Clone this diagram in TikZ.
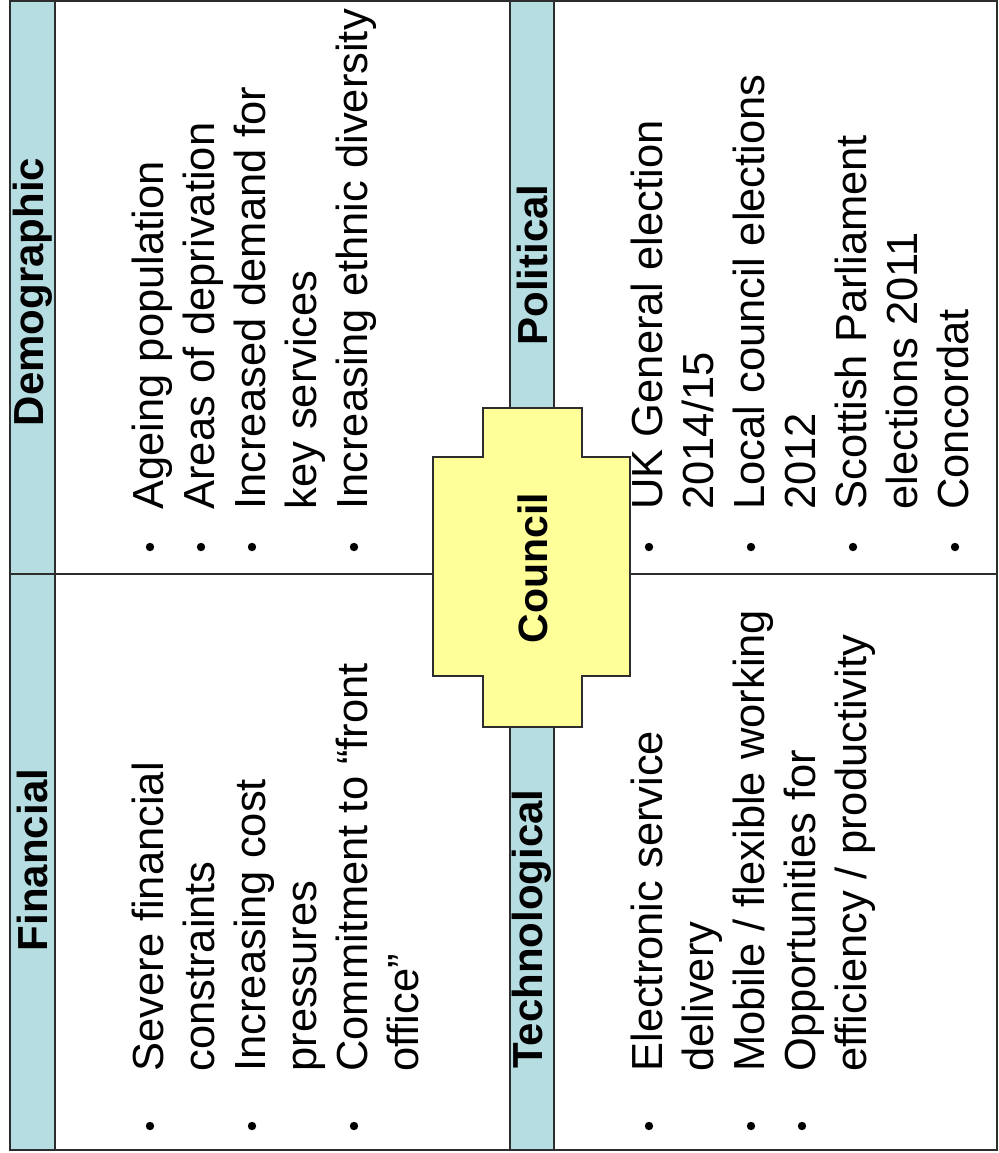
\documentclass[tikz,border=0pt]{standalone}
\usepackage{fontspec}
\setmainfont{Liberation Sans}
\definecolor{stripblue}{RGB}{182,222,226}
\definecolor{councilyellow}{RGB}{255,255,153}
\definecolor{edgegray}{RGB}{45,45,45}
\begin{document}
\begin{tikzpicture}[x=0.5pt,y=-0.5pt,
  itemtext/.style={rotate=90, anchor=base west, inner sep=0pt, font=\fontsize{21.75}{26}\selectfont},
  headtext/.style={rotate=90, anchor=center, inner sep=0pt, font=\bfseries\fontsize{21}{25}\selectfont},
  bulletdot/.style={circle, fill=black, draw=none, inner sep=0pt, minimum size=4.2pt},
  frame/.style={draw=edgegray, line width=0.9pt}]
\useasboundingbox (0,0) rectangle (999,1153);
% outer frame
\draw[frame] (10,1) rectangle (997,1150);
% header strips
\draw[frame, fill=stripblue] (10,1) rectangle (55,1150);
\draw[frame, fill=stripblue] (510,1) rectangle (554,1150);
% horizontal divider
\draw[frame] (10,574) -- (997,574);
% council shape
\draw[frame, fill=councilyellow] (483,408) -- (582,408) -- (582,457) -- (630,457) -- (630,676) -- (582,676) -- (582,727) -- (483,727) -- (483,676) -- (433,676) -- (433,457) -- (483,457) -- cycle;
\node[headtext, font=\bfseries\fontsize{20.5}{24}\selectfont] (council) at (533,568) {Council};
% headers
\node[headtext] (hdemo) at (32.5,292) {Demographic};
\node[headtext] (hfin) at (32.5,860) {Financial};
\node[headtext] (hpol) at (532,265) {Political};
\node[headtext] (htech) at (532,929) {Technological};
% Demographic
\node[bulletdot] (db1) at (150,547) {};
\node[bulletdot] (db2) at (201,547) {};
\node[bulletdot] (db3) at (252,547) {};
\node[bulletdot] (db4) at (354,547) {};
\node[itemtext] (d1) at (163,510) {Ageing population};
\node[itemtext] (d2) at (214,510) {Areas of deprivation};
\node[itemtext] (d3) at (265,510) {Increased demand for};
\node[itemtext] (d3b) at (316,510) {key services};
\node[itemtext] (d4) at (367,510) {Increasing ethnic diversity};
% Financial
\node[bulletdot] (fb1) at (150,1126) {};
\node[bulletdot] (fb2) at (252,1126) {};
\node[bulletdot] (fb3) at (354,1126) {};
\node[itemtext] (f1) at (163,1072) {Severe financial};
\node[itemtext] (f1b) at (214,1072) {constraints};
\node[itemtext] (f2) at (265,1072) {Increasing cost};
\node[itemtext] (f2b) at (316,1072) {pressures};
\node[itemtext] (f3) at (367,1072) {Commitment to “front};
\node[itemtext] (f3b) at (418,1072) {office”};
% Technological
\node[bulletdot] (tb1) at (649,1126) {};
\node[bulletdot] (tb2) at (751,1126) {};
\node[bulletdot] (tb3) at (802,1126) {};
\node[itemtext] (t1) at (662,1072) {Electronic service};
\node[itemtext] (t1b) at (713,1072) {delivery};
\node[itemtext] (t2) at (764,1072) {Mobile / flexible working};
\node[itemtext] (t3) at (815,1072) {Opportunities for};
\node[itemtext] (t3b) at (866,1072) {efficiency / productivity};
% Political
\node[bulletdot] (pb1) at (649,547) {};
\node[bulletdot] (pb2) at (751,547) {};
\node[bulletdot] (pb3) at (853,547) {};
\node[bulletdot] (pb4) at (955,547) {};
\node[itemtext] (p1) at (662,510) {UK General election};
\node[itemtext] (p1b) at (713,510) {2014/15};
\node[itemtext] (p2) at (764,510) {Local council elections};
\node[itemtext] (p2b) at (815,510) {2012};
\node[itemtext] (p3) at (866,510) {Scottish Parliament};
\node[itemtext] (p3b) at (917,510) {elections 2011};
\node[itemtext] (p4) at (968,510) {Concordat};
\end{tikzpicture}
\end{document}
